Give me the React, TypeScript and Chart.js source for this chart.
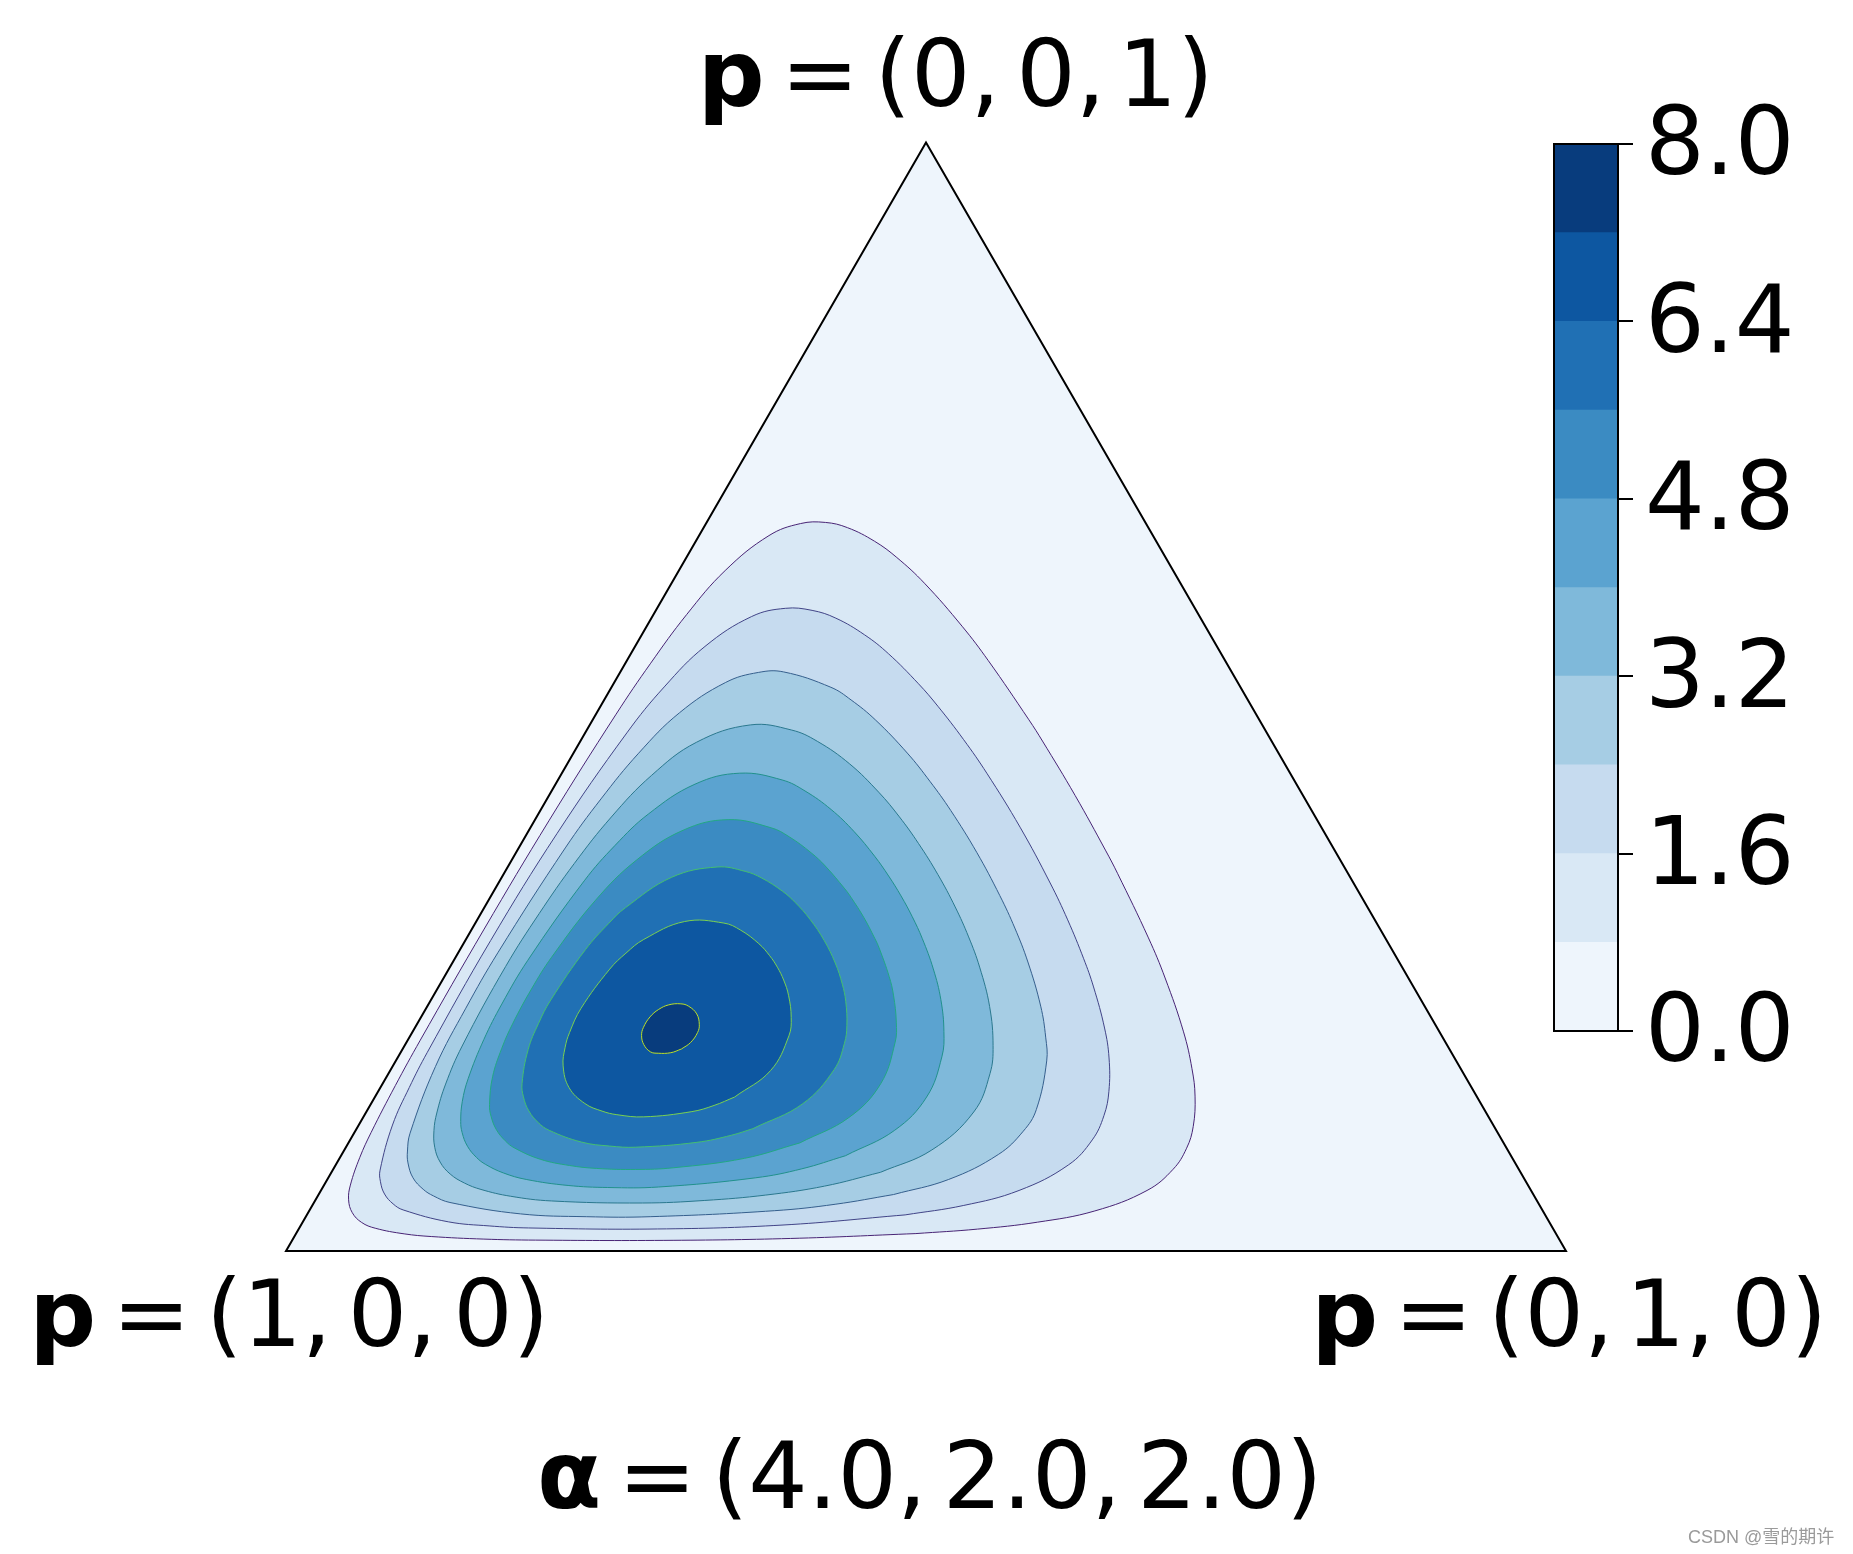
import React, { useEffect, useRef } from "react";
import { Chart, registerables } from "chart.js";

Chart.register(...registerables);

// ---- values ----
const LEVELS = [0, 0.8, 1.6, 2.4, 3.2, 4.0, 4.8, 5.6, 6.4, 7.2, 8.0];
const BAND_COLORS = ["#eef5fc", "#d9e8f5", "#c6dbef", "#a6cde4", "#7fb9da", "#5ba3d0", "#3b8bc2", "#2070b4", "#0d57a1", "#083c7d"];
const LINE_COLORS = ["#482475", "#414487", "#355f8d", "#2a788e", "#21918c", "#22a884", "#44bf70", "#7ad151", "#bddf26"];
const CB_TICKS = [0, 1.6, 3.2, 4.8, 6.4, 8.0];
const TRI_X = [0, 1, 0.5];
const TRI_Y = [0, 0, 0.866];
const CORNER_P = [["1", "0", "0"], ["0", "1", "0"], ["0", "0", "1"]];
const ALPHA = ["4.0", "2.0", "2.0"];

// contour outlines, in simplex (x, y) units
const C_08 = [[0.4921,0.0136],[0.3943,0.0098],[0.2952,0.0083],[0.1951,0.0085],[0.1546,0.0093],[0.1135,0.0113],[0.0923,0.0134],[0.0697,0.0178],[0.0591,0.0223],[0.0518,0.0299],[0.0489,0.0400],[0.0503,0.0515],[0.0577,0.0732],[0.0665,0.0926],[0.0854,0.1292],[0.1049,0.1647],[0.1548,0.2515],[0.2057,0.3366],[0.2579,0.4194],[0.2849,0.4592],[0.3130,0.4972],[0.3431,0.5316],[0.3773,0.5589],[0.4019,0.5683],[0.4214,0.5692],[0.4387,0.5651],[0.4598,0.5545],[0.4772,0.5418],[0.4988,0.5217],[0.5282,0.4881],[0.5487,0.4612],[0.5804,0.4150],[0.5910,0.3984],[0.6165,0.3559],[0.6405,0.3126],[0.6496,0.2951],[0.6738,0.2446],[0.6868,0.2133],[0.7012,0.1712],[0.7078,0.1424],[0.7102,0.1210],[0.7088,0.0974],[0.7036,0.0803],[0.6931,0.0639],[0.6727,0.0473],[0.6319,0.0313],[0.5870,0.0225],[0.5402,0.0171]];
const C_16 = [[0.4837,0.0282],[0.3883,0.0203],[0.2901,0.0172],[0.1896,0.0180],[0.1587,0.0196],[0.1268,0.0228],[0.0915,0.0321],[0.0837,0.0368],[0.0770,0.0445],[0.0738,0.0541],[0.0735,0.0632],[0.0832,0.0984],[0.0963,0.1277],[0.1104,0.1552],[0.1599,0.2426],[0.2117,0.3261],[0.2663,0.4048],[0.2955,0.4407],[0.3273,0.4723],[0.3638,0.4957],[0.3901,0.5021],[0.4110,0.5005],[0.4296,0.4944],[0.4520,0.4814],[0.4706,0.4667],[0.4941,0.4432],[0.5093,0.4256],[0.5294,0.3995],[0.5475,0.3733],[0.5735,0.3311],[0.5970,0.2875],[0.6107,0.2587],[0.6232,0.2283],[0.6309,0.2063],[0.6395,0.1742],[0.6430,0.1508],[0.6429,0.1248],[0.6390,0.1057],[0.6299,0.0868],[0.6112,0.0672],[0.5727,0.0473],[0.5295,0.0356]];
const C_24 = [[0.4746,0.0441],[0.4290,0.0365],[0.3818,0.0315],[0.2845,0.0268],[0.2346,0.0268],[0.1832,0.0290],[0.1281,0.0379],[0.1151,0.0431],[0.1072,0.0482],[0.0992,0.0572],[0.0953,0.0688],[0.0949,0.0781],[0.0969,0.0920],[0.1168,0.1442],[0.1405,0.1897],[0.1655,0.2330],[0.2182,0.3149],[0.2461,0.3532],[0.2755,0.3889],[0.3073,0.4204],[0.3435,0.4442],[0.3690,0.4520],[0.3888,0.4524],[0.4257,0.4404],[0.4415,0.4305],[0.4604,0.4150],[0.4854,0.3890],[0.5031,0.3669],[0.5193,0.3442],[0.5396,0.3115],[0.5577,0.2776],[0.5694,0.2523],[0.5796,0.2258],[0.5896,0.1913],[0.5935,0.1671],[0.5943,0.1485],[0.5862,0.1105],[0.5760,0.0936],[0.5565,0.0754],[0.5177,0.0559]];
const C_32 = [[0.4645,0.0615],[0.4208,0.0507],[0.3748,0.0437],[0.3272,0.0395],[0.2784,0.0375],[0.2074,0.0391],[0.1753,0.0428],[0.1523,0.0481],[0.1394,0.0531],[0.1283,0.0601],[0.1204,0.0695],[0.1162,0.0810],[0.1156,0.0942],[0.1178,0.1078],[0.1247,0.1304],[0.1376,0.1601],[0.1716,0.2223],[0.1978,0.2636],[0.2252,0.3027],[0.2542,0.3391],[0.2855,0.3715],[0.3206,0.3974],[0.3627,0.4110],[0.3950,0.4070],[0.4151,0.3982],[0.4403,0.3806],[0.4631,0.3584],[0.4792,0.3392],[0.4942,0.3183],[0.5093,0.2941],[0.5228,0.2688],[0.5333,0.2454],[0.5419,0.2218],[0.5497,0.1910],[0.5524,0.1604],[0.5500,0.1386],[0.5373,0.1086],[0.5045,0.0789]];
const C_40 = [[0.4370,0.0744],[0.4030,0.0642],[0.3670,0.0572],[0.2911,0.0500],[0.2514,0.0496],[0.2204,0.0512],[0.1877,0.0559],[0.1698,0.0610],[0.1560,0.0676],[0.1489,0.0730],[0.1418,0.0818],[0.1376,0.0925],[0.1365,0.1013],[0.1377,0.1166],[0.1423,0.1346],[0.1546,0.1653],[0.1686,0.1929],[0.1889,0.2271],[0.2330,0.2892],[0.2571,0.3169],[0.2830,0.3413],[0.3195,0.3647],[0.3545,0.3733],[0.3876,0.3680],[0.4055,0.3594],[0.4259,0.3449],[0.4438,0.3277],[0.4599,0.3084],[0.4708,0.2930],[0.4805,0.2774],[0.4892,0.2613],[0.4971,0.2441],[0.5057,0.2204],[0.5116,0.1964],[0.5140,0.1714],[0.5124,0.1517],[0.5005,0.1203],[0.4755,0.0943]];
const C_48 = [[0.4013,0.0844],[0.3582,0.0724],[0.3025,0.0650],[0.2732,0.0637],[0.2428,0.0645],[0.2215,0.0668],[0.1986,0.0717],[0.1785,0.0805],[0.1713,0.0861],[0.1643,0.0949],[0.1602,0.1053],[0.1590,0.1143],[0.1614,0.1361],[0.1686,0.1584],[0.1773,0.1780],[0.1918,0.2047],[0.2075,0.2295],[0.2418,0.2740],[0.2737,0.3053],[0.3102,0.3287],[0.3454,0.3370],[0.3791,0.3306],[0.3933,0.3235],[0.4104,0.3110],[0.4213,0.3008],[0.4366,0.2829],[0.4415,0.2762],[0.4514,0.2606],[0.4600,0.2442],[0.4634,0.2367],[0.4712,0.2145],[0.4746,0.1999],[0.4768,0.1788],[0.4759,0.1631],[0.4646,0.1307],[0.4398,0.1043]];
const C_56 = [[0.3648,0.0956],[0.3478,0.0904],[0.3210,0.0849],[0.2732,0.0811],[0.2527,0.0820],[0.2309,0.0851],[0.2056,0.0943],[0.1970,0.1004],[0.1897,0.1095],[0.1855,0.1204],[0.1844,0.1309],[0.1892,0.1574],[0.1973,0.1778],[0.2068,0.1960],[0.2340,0.2355],[0.2522,0.2560],[0.2652,0.2682],[0.3014,0.2920],[0.3368,0.3000],[0.3587,0.2966],[0.3718,0.2913],[0.3877,0.2812],[0.3979,0.2722],[0.4094,0.2591],[0.4204,0.2427],[0.4291,0.2250],[0.4346,0.2085],[0.4373,0.1951],[0.4382,0.1763],[0.4363,0.1623],[0.4282,0.1417],[0.4036,0.1150]];
const C_64 = [[0.3505,0.1203],[0.3344,0.1137],[0.3171,0.1089],[0.2795,0.1048],[0.2585,0.1065],[0.2469,0.1093],[0.2335,0.1152],[0.2211,0.1277],[0.2165,0.1446],[0.2181,0.1592],[0.2215,0.1706],[0.2305,0.1896],[0.2529,0.2202],[0.2656,0.2327],[0.2795,0.2434],[0.3114,0.2574],[0.3421,0.2562],[0.3553,0.2506],[0.3694,0.2401],[0.3778,0.2308],[0.3839,0.2217],[0.3888,0.2117],[0.3926,0.1998],[0.3947,0.1824],[0.3929,0.1681],[0.3786,0.1410]];
const C_72 = [[0.3089,0.1578],[0.3006,0.1549],[0.2908,0.1545],[0.2847,0.1556],[0.2795,0.1613],[0.2778,0.1684],[0.2792,0.1746],[0.2844,0.1829],[0.2911,0.1887],[0.2990,0.1923],[0.3085,0.1931],[0.3146,0.1912],[0.3209,0.1852],[0.3229,0.1768],[0.3215,0.1706],[0.3160,0.1628]];
const CONTOURS = [C_08, C_16, C_24, C_32, C_40, C_48, C_56, C_64, C_72];

// ---- text helpers ----
const FAM = '"DejaVu Sans"';
const GAPS_EM = [0.31, 0.35, 0.33, 0.33];
const LABEL_SIZE = 93.5;

type Piece = { t: string; bold?: boolean };

function labelPieces(sym: string, vals: string[]): Piece[] {
  return [
    { t: sym, bold: true },
    { t: "=" },
    { t: "(" + vals[0] + "," },
    { t: vals[1] + "," },
    { t: vals[2] + ")" },
  ];
}

function drawMath(ctx: CanvasRenderingContext2D, pieces: Piece[], cx: number, base: number, size: number) {
  const fr = `${size}px ${FAM}`;
  const fb = `bold ${size}px ${FAM}`;
  ctx.textAlign = "left";
  ctx.textBaseline = "alphabetic";
  const ms = pieces.map((p) => {
    ctx.font = p.bold ? fb : fr;
    const m = ctx.measureText(p.t);
    return { l: m.actualBoundingBoxLeft, r: m.actualBoundingBoxRight };
  });
  let cursor = 0;
  const xs: number[] = [];
  pieces.forEach((_, i) => {
    xs.push(cursor + ms[i].l);
    cursor += ms[i].l + ms[i].r;
    if (i < pieces.length - 1) cursor += GAPS_EM[i] * size;
  });
  const start = cx - cursor / 2;
  pieces.forEach((p, i) => {
    ctx.font = p.bold ? fb : fr;
    ctx.fillText(p.t, start + xs[i], base);
  });
}

const labelsPlugin = {
  id: "simplexLabels",
  afterDraw(chart: any) {
    const { ctx } = chart;
    const x = chart.scales.x;
    const y = chart.scales.y;
    const px = (i: number) => x.getPixelForValue(TRI_X[i]);
    const py = (i: number) => y.getPixelForValue(TRI_Y[i]);
    ctx.save();
    ctx.fillStyle = "#000";
    drawMath(ctx, labelPieces("p", CORNER_P[0]), px(0) + 3, py(0) + 95, LABEL_SIZE);
    drawMath(ctx, labelPieces("p", CORNER_P[1]), px(1) + 3, py(1) + 95, LABEL_SIZE);
    drawMath(ctx, labelPieces("p", CORNER_P[2]), px(2) + 29.5, py(2) - 36.5, LABEL_SIZE);
    drawMath(ctx, labelPieces("α", ALPHA), (px(0) + px(1)) / 2 + 2, py(0) + 257, LABEL_SIZE);
    ctx.font = '18px "Liberation Sans", "Noto Sans CJK SC", sans-serif';
    ctx.fillStyle = "#9a9a9a";
    ctx.textAlign = "left";
    ctx.textBaseline = "alphabetic";
    ctx.fillText("CSDN @雪的期许", 1688, 1543);
    ctx.restore();
  },
};

const outlinePlugin = {
  id: "cbOutline",
  afterDraw(chart: any) {
    const { ctx, chartArea: a } = chart;
    ctx.save();
    ctx.strokeStyle = "#000";
    ctx.lineWidth = 2;
    ctx.strokeRect(a.left, a.top, a.right - a.left, a.bottom - a.top);
    ctx.restore();
  },
};

function mainConfig(): any {
  const tri = [0, 1, 2, 0, 1].map((i) => ({ x: TRI_X[i], y: TRI_Y[i] }));
  const datasets: any[] = [
    {
      data: tri,
      showLine: true,
      fill: "shape",
      backgroundColor: BAND_COLORS[0],
      borderColor: "#000",
      borderWidth: 2,
      borderJoinStyle: "miter",
      pointRadius: 0,
      tension: 0,
      order: 100,
      clip: false,
    },
  ];
  CONTOURS.forEach((pts, i) => {
    datasets.push({
      data: [...pts, pts[0]].map(([a, b]) => ({ x: a, y: b })),
      showLine: true,
      fill: "shape",
      backgroundColor: BAND_COLORS[i + 1],
      borderColor: LINE_COLORS[i],
      borderWidth: 1,
      pointRadius: 0,
      tension: 0.4,
      order: 50 - i,
      clip: false,
    });
  });
  return {
    type: "scatter",
    data: { datasets },
    options: {
      animation: false,
      responsive: false,
      devicePixelRatio: 1,
      events: [],
      layout: { padding: { left: 286, right: 287, top: 142.5, bottom: 303 } },
      scales: {
        x: { type: "linear", min: 0, max: 1, display: false },
        y: { type: "linear", min: 0, max: 0.8660254, display: false },
      },
      plugins: { legend: { display: false }, tooltip: { enabled: false }, title: { display: false } },
    },
    plugins: [labelsPlugin],
  };
}

function cbConfig(): any {
  return {
    type: "bar",
    data: {
      labels: ["cb"],
      datasets: BAND_COLORS.map((c, i) => ({
        data: [[LEVELS[0], LEVELS[i + 1]]],
        backgroundColor: c,
        borderWidth: 0,
        barPercentage: 1,
        categoryPercentage: 1,
        grouped: false,
        order: i,
      })),
    },
    options: {
      animation: false,
      responsive: false,
      devicePixelRatio: 1,
      events: [],
      layout: { padding: { left: 10, right: 0, top: 80, bottom: 80 } },
      plugins: { legend: { display: false }, tooltip: { enabled: false } },
      scales: {
        x: { display: false },
        y: {
          position: "right",
          min: LEVELS[0],
          max: LEVELS[LEVELS.length - 1],
          afterBuildTicks: (s: any) => {
            s.ticks = CB_TICKS.map((v) => ({ value: v }));
          },
          afterFit: (s: any) => {
            s.width = 220;
          },
          ticks: {
            color: "#000",
            font: { family: FAM, size: 94 },
            padding: 12,
            labelOffset: 6,
            autoSkip: false,
            maxRotation: 0,
            callback: (v: any) => Number(v).toFixed(1),
          },
          grid: {
            drawOnChartArea: false,
            drawTicks: true,
            tickLength: 15,
            tickWidth: 2,
            tickColor: "#000",
            color: "#000",
            lineWidth: 2,
          },
          border: { display: false },
        },
      },
    },
    plugins: [outlinePlugin],
  };
}

export default function App() {
  const mainRef = useRef<HTMLCanvasElement>(null);
  const cbRef = useRef<HTMLCanvasElement>(null);
  useEffect(() => {
    const main = new Chart(mainRef.current as HTMLCanvasElement, mainConfig());
    const cb = new Chart(cbRef.current as HTMLCanvasElement, cbConfig());
    return () => {
      main.destroy();
      cb.destroy();
    };
  }, []);
  return (
    <div style={{ position: "absolute", left: 0, top: 0, width: 1853, height: 1554, background: "#fff", overflow: "hidden" }}>
      <canvas ref={mainRef} width={1853} height={1554} style={{ position: "absolute", left: 0, top: 0, width: 1853, height: 1554 }} />
      <canvas ref={cbRef} width={294} height={1047} style={{ position: "absolute", left: 1544, top: 64, width: 294, height: 1047 }} />
    </div>
  );
}
